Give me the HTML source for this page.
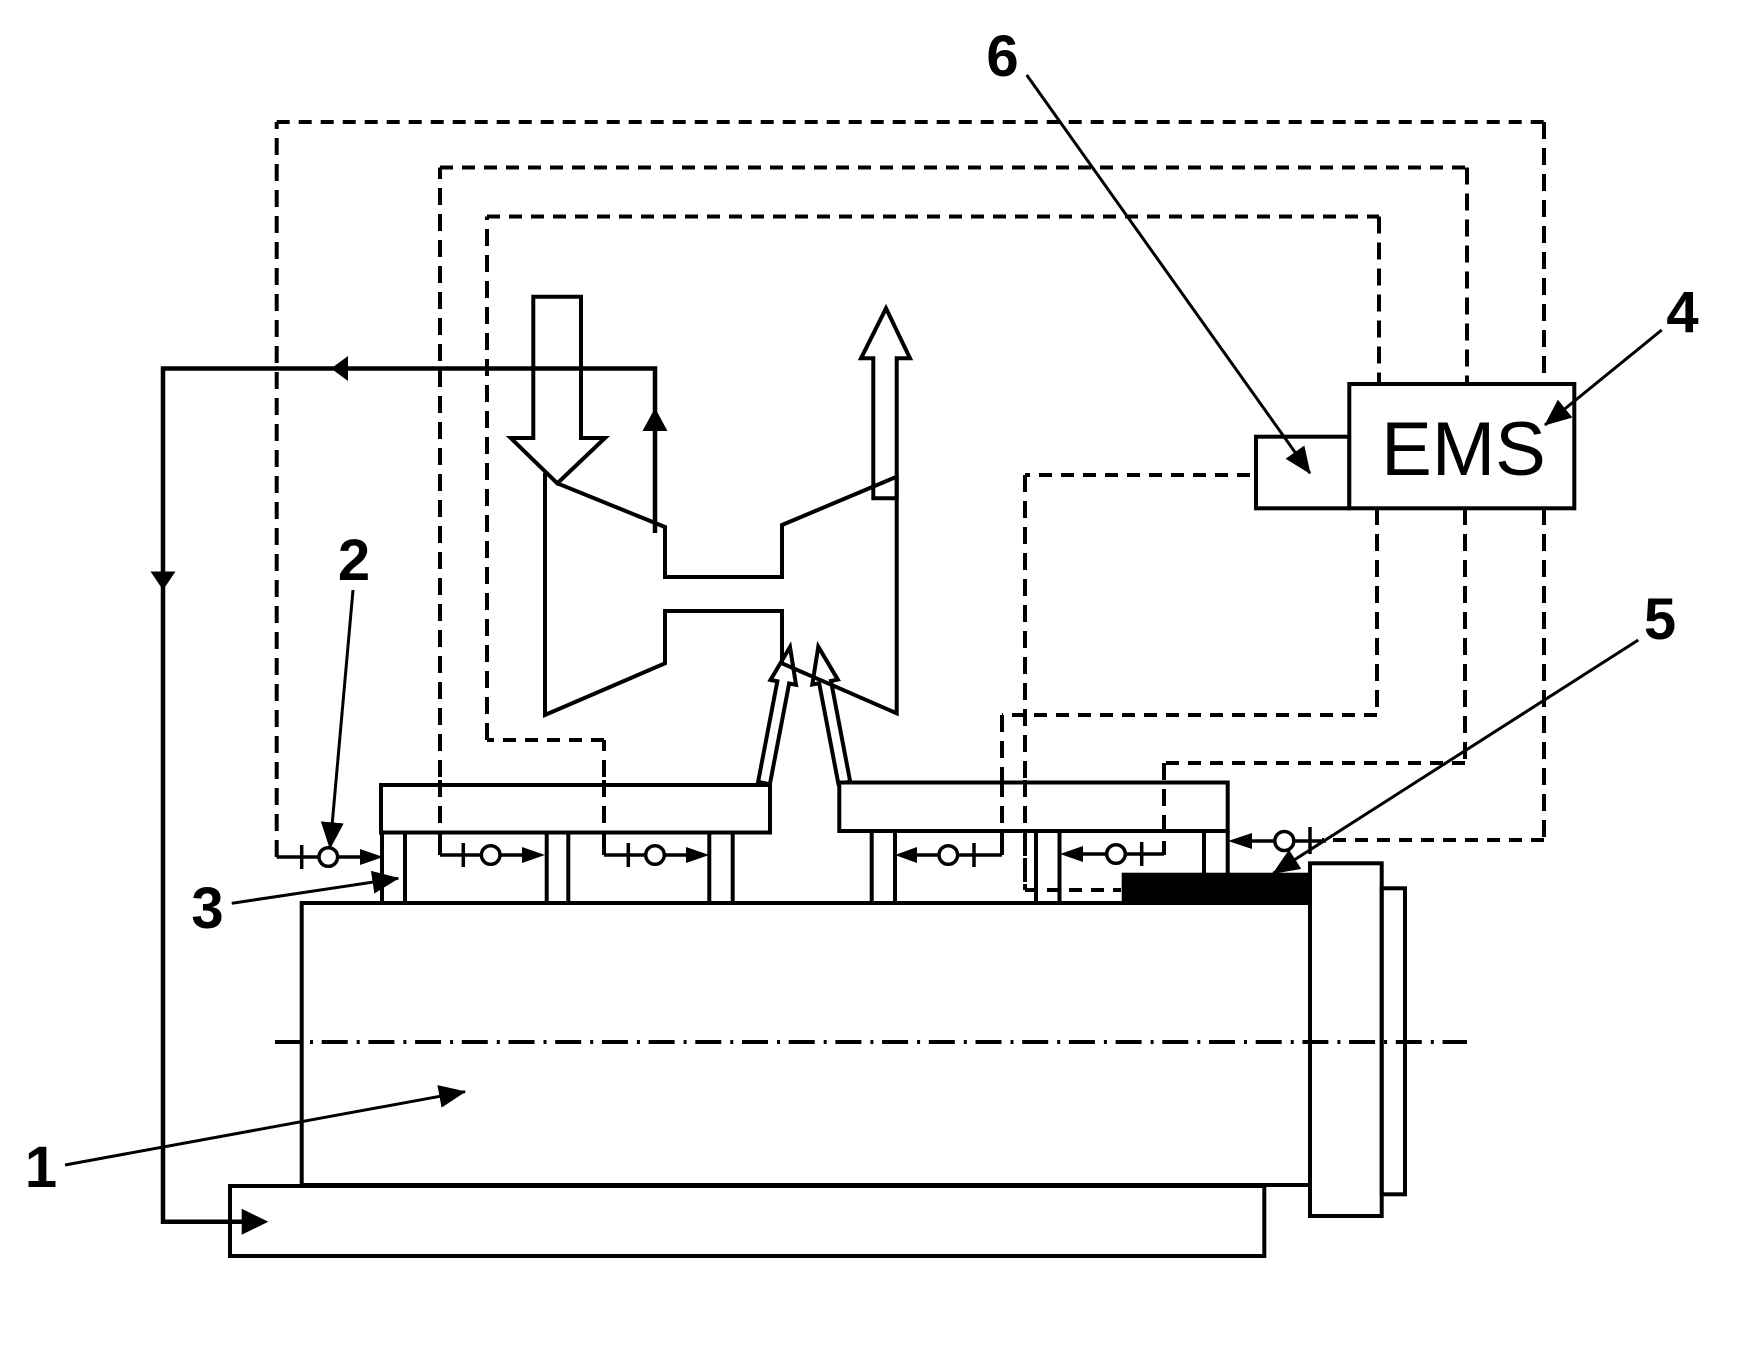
<!DOCTYPE html>
<html><head><meta charset="utf-8"><style>
html,body{margin:0;padding:0;background:#fff;}
svg{display:block;}
text{font-family:"Liberation Sans",Arial,sans-serif;fill:#000;}
</style></head><body>
<svg width="1743" height="1347" viewBox="0 0 1743 1347" xmlns="http://www.w3.org/2000/svg">
<defs>
<marker id="ah" viewBox="0 0 27 23" refX="26" refY="11.5" markerWidth="27" markerHeight="23" markerUnits="userSpaceOnUse" orient="auto"><path d="M0,0L27,11.5L0,23z" fill="#000"/></marker>
</defs>
<rect x="0" y="0" width="1743" height="1347" fill="#fff"/>

<!-- dashed control lines -->
<g stroke="#000" stroke-width="4" fill="none">
<g stroke-dasharray="13 9">
<line x1="276.7" y1="122" x2="1544" y2="122"/>
<line x1="440" y1="167.5" x2="1467" y2="167.5"/>
<line x1="487" y1="216.5" x2="1379" y2="216.5"/>
<line x1="604" y1="740" x2="487" y2="740"/>
<line x1="1544" y1="840" x2="1322" y2="840"/>
<line x1="1465" y1="763" x2="1164" y2="763"/>
<line x1="1377" y1="715" x2="1002" y2="715"/>
<line x1="1250" y1="475" x2="1025" y2="475"/>
<line x1="1025" y1="890" x2="1121" y2="890"/>
</g>
<g stroke-dasharray="17 9">
<line x1="276.7" y1="857" x2="276.7" y2="122"/>
<line x1="440" y1="855" x2="440" y2="167.5"/>
<line x1="604" y1="855" x2="604" y2="740"/>
<line x1="487" y1="740" x2="487" y2="216.5"/>
<line x1="1544" y1="122" x2="1544" y2="384"/>
<line x1="1467" y1="167.5" x2="1467" y2="384"/>
<line x1="1379" y1="216.5" x2="1379" y2="384"/>
<line x1="1544" y1="508" x2="1544" y2="840"/>
<line x1="1465" y1="508" x2="1465" y2="763"/>
<line x1="1164" y1="763" x2="1164" y2="855"/>
<line x1="1377" y1="508" x2="1377" y2="715"/>
<line x1="1002" y1="715" x2="1002" y2="855"/>
<line x1="1025" y1="475" x2="1025" y2="890"/>
</g>
</g>

<!-- centre dash-dot line -->
<line x1="275" y1="1042" x2="1467" y2="1042" stroke="#000" stroke-width="4" stroke-dasharray="26 9 3 8.7"/>

<!-- flow line -->
<polyline points="655,533 655,368.5 163,368.5 163,1221.7 243,1221.7" fill="none" stroke="#000" stroke-width="4.5"/>
<polygon points="655,408 667.5,431 642.5,431" fill="#000"/>
<polygon points="331,368.5 348,356 348,381" fill="#000"/>
<polygon points="163,590 150.5,571.5 175.5,571.5" fill="#000"/>
<polygon points="268.3,1221.7 241.7,1208.7 241.7,1234.7" fill="#000"/>

<!-- compressor / turbine -->
<g fill="none" stroke="#000" stroke-width="4" stroke-linejoin="miter">
<polygon points="533.3,296.7 581,296.7 581,438 605,438 557.3,483.3 510.7,438 533.3,438"/>
<polyline points="557.3,483.3 665,527 665,577 782,577 782,525 896.7,476.7 896.7,713.3 782,663.3 782,611 665,611 665,663.3 545,715 545,473"/>
<polygon points="886,308.3 910,358.3 896.7,358.3 896.7,498.3 873.3,498.3 873.3,358.3 861,358.3"/>
<polygon transform="translate(790,647) rotate(10.82)" points="0,0 13,36 6,36 6,138.5 -6,138.5 -6,36 -13,36"/>
<polygon transform="translate(818.3,646.7) rotate(-10.82)" points="0,0 13,36 6,36 6,138.5 -6,138.5 -6,36 -13,36"/>
</g>

<!-- bearing plates & pillars -->
<g fill="none" stroke="#000" stroke-width="4">
<rect x="381" y="785" width="389" height="47.5" fill="#fff"/>
<rect x="839.3" y="782.5" width="388.4" height="48.5" fill="#fff"/>
<line x1="382" y1="832" x2="382" y2="903"/>
<line x1="405" y1="832" x2="405" y2="903"/>
<line x1="546.7" y1="832" x2="546.7" y2="903"/>
<line x1="568.3" y1="832" x2="568.3" y2="903"/>
<line x1="709.3" y1="832" x2="709.3" y2="903"/>
<line x1="732.7" y1="832" x2="732.7" y2="903"/>
<line x1="871.7" y1="831" x2="871.7" y2="903"/>
<line x1="895" y1="831" x2="895" y2="903"/>
<line x1="1036" y1="831" x2="1036" y2="903"/>
<line x1="1059.5" y1="831" x2="1059.5" y2="903"/>
<line x1="1204" y1="831" x2="1204" y2="873"/>
<line x1="1227.7" y1="831" x2="1227.7" y2="873"/>
</g>
<!-- redraw dashed lines crossing plates -->
<g stroke="#000" stroke-width="4" stroke-dasharray="17 9">
<line x1="440" y1="780" x2="440" y2="855"/>
<line x1="604" y1="780" x2="604" y2="855"/>
<line x1="1002" y1="780" x2="1002" y2="855"/>
<line x1="1025" y1="780" x2="1025" y2="890"/>
<line x1="1164" y1="763" x2="1164" y2="855"/>
</g>

<!-- shaft body -->
<g fill="none" stroke="#000" stroke-width="4">
<rect x="301.7" y="903" width="1008.3" height="282"/>
<rect x="230" y="1186" width="1034.3" height="70"/>
<rect x="1310" y="863.3" width="71.7" height="352.7"/>
<rect x="1381.7" y="888.3" width="23.3" height="306"/>
</g>
<rect x="1121.7" y="872.7" width="189.3" height="29.3" fill="#000"/>

<!-- valves -->
<g stroke="#000" stroke-width="3.5" fill="none">
<line x1="276.7" y1="847" x2="276.7" y2="857"/>
<line x1="276.7" y1="857" x2="362" y2="857"/>
<line x1="301.7" y1="845" x2="301.7" y2="869"/>
<circle cx="328.3" cy="857" r="9.3" fill="#fff"/>

<line x1="440" y1="846" x2="440" y2="855"/>
<line x1="440" y1="855" x2="524" y2="855"/>
<line x1="463.3" y1="843" x2="463.3" y2="867"/>
<circle cx="490.7" cy="855" r="9.3" fill="#fff"/>

<line x1="604" y1="846" x2="604" y2="855"/>
<line x1="604" y1="855" x2="688" y2="855"/>
<line x1="628.3" y1="843" x2="628.3" y2="867"/>
<circle cx="655" cy="855" r="9.3" fill="#fff"/>

<line x1="1002" y1="846" x2="1002" y2="855"/>
<line x1="1002" y1="855" x2="915" y2="855"/>
<line x1="974" y1="843" x2="974" y2="867"/>
<circle cx="948.3" cy="855" r="9.3" fill="#fff"/>

<line x1="1164" y1="846" x2="1164" y2="854"/>
<line x1="1164" y1="854" x2="1081" y2="854"/>
<line x1="1141.7" y1="842" x2="1141.7" y2="866"/>
<circle cx="1116" cy="854" r="9.3" fill="#fff"/>

<line x1="1326" y1="841" x2="1250" y2="841"/>
<line x1="1310" y1="827" x2="1310" y2="854"/>
<circle cx="1284.3" cy="841" r="9.5" fill="#fff"/>
</g>
<g fill="#000">
<polygon points="383,857 360,849 360,865"/>
<polygon points="545,855 522,847 522,863"/>
<polygon points="709.3,855 686,847 686,863"/>
<polygon points="895,855 917,847 917,863"/>
<polygon points="1060,854 1083,846 1083,862"/>
<polygon points="1228,841 1252,833 1252,849"/>
</g>

<!-- EMS -->
<g fill="#fff" stroke="#000" stroke-width="4">
<rect x="1256" y="436.7" width="93.3" height="71.6"/>
<rect x="1349.3" y="384" width="225" height="124.3"/>
</g>
<text x="1463.5" y="475" font-size="76" text-anchor="middle">EMS</text>

<!-- leaders -->
<g stroke="#000" stroke-width="3" marker-end="url(#ah)">
<line x1="1026.7" y1="75" x2="1310" y2="473.3"/>
<line x1="1661.7" y1="330" x2="1545" y2="425"/>
<line x1="1638.3" y1="640" x2="1273.3" y2="873.3"/>
<line x1="231.7" y1="903.3" x2="398.3" y2="878.3"/>
<line x1="65" y1="1165" x2="465" y2="1091.7"/>
<line x1="353" y1="590" x2="330" y2="848.3"/>
</g>

<!-- labels -->
<g font-size="58" font-weight="bold" text-anchor="middle">
<text x="1002.5" y="76">6</text>
<text x="1682.5" y="332">4</text>
<text x="354" y="580">2</text>
<text x="1660" y="639">5</text>
<text x="207.5" y="928">3</text>
<text x="41" y="1187">1</text>
</g>
</svg>
</body></html>
